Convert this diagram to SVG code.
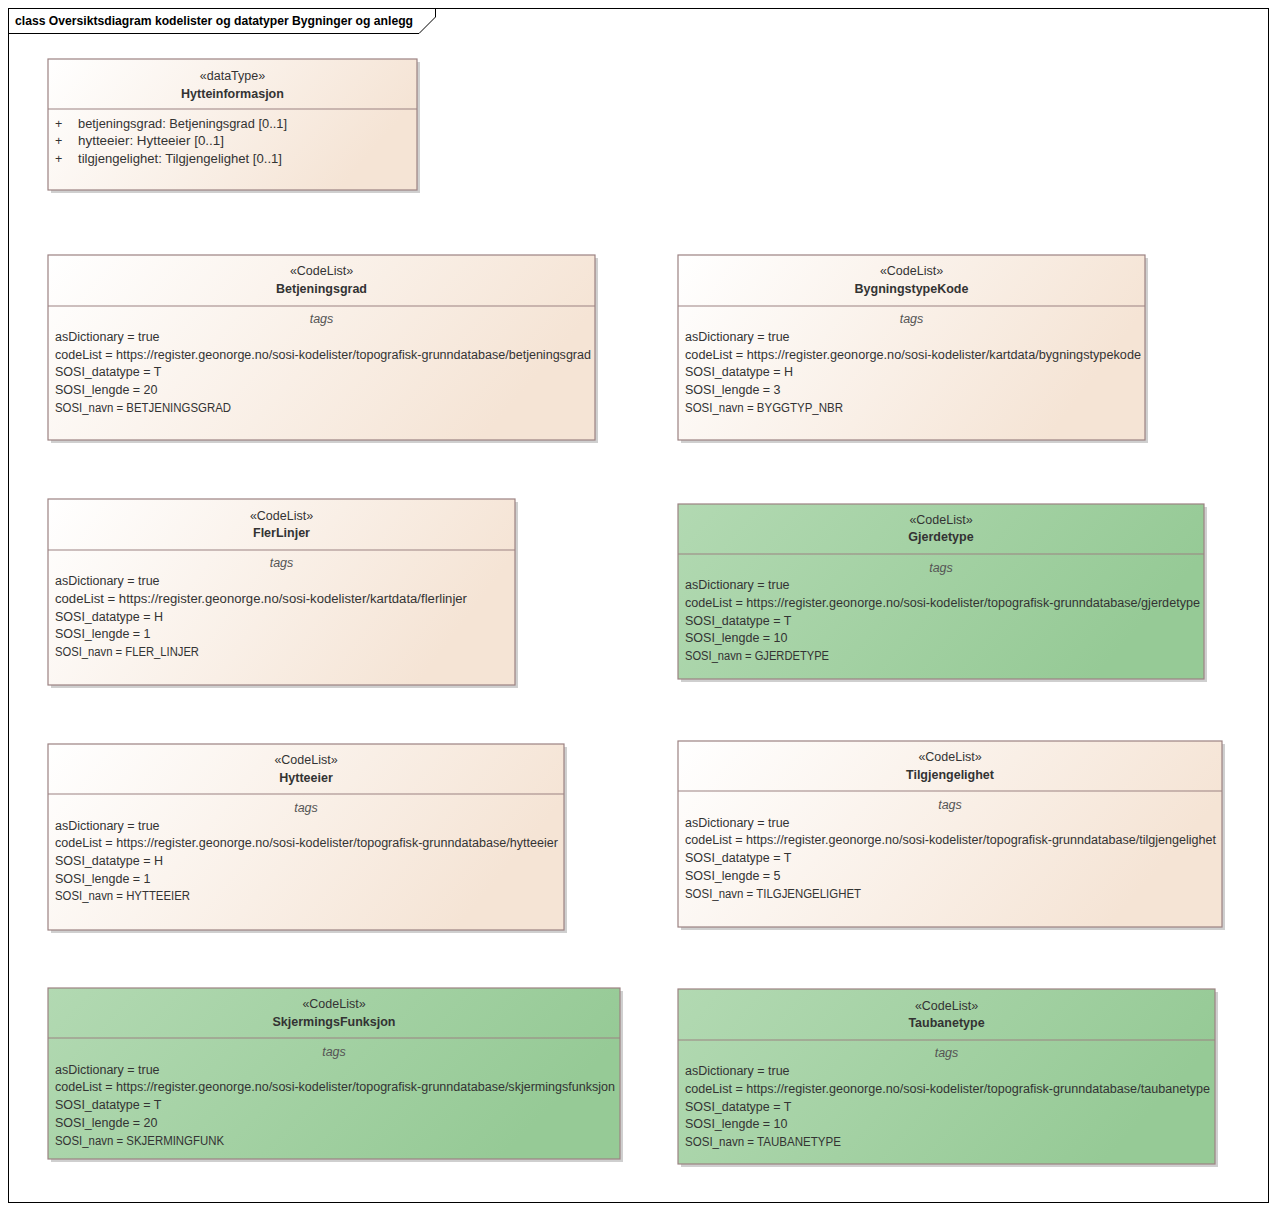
<svg xmlns="http://www.w3.org/2000/svg" width="1276" height="1210" viewBox="0 0 1276 1210">
<defs>
<linearGradient id="cream" x1="0" y1="0" x2="1" y2="0.3">
<stop offset="0" stop-color="#FFFFFF"/>
<stop offset="1" stop-color="#F5E4D5"/>
</linearGradient>
<linearGradient id="green" x1="0" y1="0" x2="1" y2="0.3">
<stop offset="0" stop-color="#B2D9B2"/>
<stop offset="1" stop-color="#96CA96"/>
</linearGradient>
<style>
text{font-family:"Liberation Sans",Arial,sans-serif;font-size:12.5px;fill:#333}
.c{text-anchor:middle}
.b{font-weight:bold}
.i{font-style:italic;fill:#555}
.t{font-weight:bold;fill:#000;font-size:12px}
.box{stroke:#9C8282;stroke-width:1.2}
.cr{fill:url(#cream)}
.gr{fill:url(#green)}
.sh{fill:#CFCFCF}
.sep{stroke:#9C8282;stroke-width:1.2}
</style>
</defs>
<rect x="0" y="0" width="1276" height="1210" fill="#FFFFFF"/>
<g id="frame">
<rect x="8.5" y="8.5" width="1260" height="1194" fill="none" stroke="#000" stroke-width="1"/>
<path d="M8.5 33.5 H419 L435.5 17 V8.5" fill="none" stroke="#000" stroke-width="1"/>
<text x="15" y="25" class="t" textLength="398" lengthAdjust="spacingAndGlyphs">class Oversiktsdiagram kodelister og datatyper Bygninger og anlegg</text>
</g>
<g id="connectors"></g>

<g id="Hytteinformasjon" transform="translate(48,59)">
<rect x="3" y="3" width="369" height="131" class="sh"/>
<rect x="0" y="0" width="369" height="131" class="box cr"/>
<line x1="0" y1="50" x2="369" y2="50" class="sep"/>
<text x="184.5" y="21" class="c">«dataType»</text>
<text x="184.5" y="39" class="c b">Hytteinformasjon</text>
<text x="7" y="69">+</text><text x="30" y="69" textLength="209" lengthAdjust="spacingAndGlyphs">betjeningsgrad: Betjeningsgrad [0..1]</text>
<text x="7" y="86">+</text><text x="30" y="86" textLength="146" lengthAdjust="spacingAndGlyphs">hytteeier: Hytteeier [0..1]</text>
<text x="7" y="104">+</text><text x="30" y="104" textLength="204" lengthAdjust="spacingAndGlyphs">tilgjengelighet: Tilgjengelighet [0..1]</text>
</g>

<g id="Betjeningsgrad" transform="translate(48,255)">
<rect x="3" y="3" width="547" height="185" class="sh"/>
<rect x="0" y="0" width="547" height="185" class="box cr"/>
<line x1="0" y1="51" x2="547" y2="51" class="sep"/>
<text x="273.5" y="20" class="c">«CodeList»</text>
<text x="273.5" y="38" class="c b">Betjeningsgrad</text>
<text x="273.5" y="68" class="c i">tags</text>
<text x="7" y="86">asDictionary = true</text>
<text x="7" y="104" textLength="536" lengthAdjust="spacingAndGlyphs">codeList = https://register.geonorge.no/sosi-kodelister/topografisk-grunndatabase/betjeningsgrad</text>
<text x="7" y="121">SOSI_datatype = T</text>
<text x="7" y="139">SOSI_lengde = 20</text>
<text x="7" y="157" textLength="176" lengthAdjust="spacingAndGlyphs">SOSI_navn = BETJENINGSGRAD</text>
</g>

<g id="BygningstypeKode" transform="translate(678,255)">
<rect x="3" y="3" width="467" height="185" class="sh"/>
<rect x="0" y="0" width="467" height="185" class="box cr"/>
<line x1="0" y1="51" x2="467" y2="51" class="sep"/>
<text x="233.5" y="20" class="c">«CodeList»</text>
<text x="233.5" y="38" class="c b">BygningstypeKode</text>
<text x="233.5" y="68" class="c i">tags</text>
<text x="7" y="86">asDictionary = true</text>
<text x="7" y="104" textLength="456" lengthAdjust="spacingAndGlyphs">codeList = https://register.geonorge.no/sosi-kodelister/kartdata/bygningstypekode</text>
<text x="7" y="121">SOSI_datatype = H</text>
<text x="7" y="139">SOSI_lengde = 3</text>
<text x="7" y="157" textLength="158" lengthAdjust="spacingAndGlyphs">SOSI_navn = BYGGTYP_NBR</text>
</g>

<g id="FlerLinjer" transform="translate(48,499)">
<rect x="3" y="3" width="467" height="186" class="sh"/>
<rect x="0" y="0" width="467" height="186" class="box cr"/>
<line x1="0" y1="51" x2="467" y2="51" class="sep"/>
<text x="233.5" y="21" class="c">«CodeList»</text>
<text x="233.5" y="38" class="c b">FlerLinjer</text>
<text x="233.5" y="68" class="c i">tags</text>
<text x="7" y="86">asDictionary = true</text>
<text x="7" y="104" textLength="412" lengthAdjust="spacingAndGlyphs">codeList = https://register.geonorge.no/sosi-kodelister/kartdata/flerlinjer</text>
<text x="7" y="122">SOSI_datatype = H</text>
<text x="7" y="139">SOSI_lengde = 1</text>
<text x="7" y="157" textLength="144" lengthAdjust="spacingAndGlyphs">SOSI_navn = FLER_LINJER</text>
</g>

<g id="Gjerdetype" transform="translate(678,504)">
<rect x="3" y="3" width="526" height="175" class="sh"/>
<rect x="0" y="0" width="526" height="175" class="box gr"/>
<line x1="0" y1="50" x2="526" y2="50" class="sep"/>
<text x="263" y="20" class="c">«CodeList»</text>
<text x="263" y="37" class="c b">Gjerdetype</text>
<text x="263" y="68" class="c i">tags</text>
<text x="7" y="85">asDictionary = true</text>
<text x="7" y="103" textLength="515" lengthAdjust="spacingAndGlyphs">codeList = https://register.geonorge.no/sosi-kodelister/topografisk-grunndatabase/gjerdetype</text>
<text x="7" y="121">SOSI_datatype = T</text>
<text x="7" y="138">SOSI_lengde = 10</text>
<text x="7" y="156" textLength="144" lengthAdjust="spacingAndGlyphs">SOSI_navn = GJERDETYPE</text>
</g>

<g id="Hytteeier" transform="translate(48,744)">
<rect x="3" y="3" width="516" height="186" class="sh"/>
<rect x="0" y="0" width="516" height="186" class="box cr"/>
<line x1="0" y1="50" x2="516" y2="50" class="sep"/>
<text x="258" y="20" class="c">«CodeList»</text>
<text x="258" y="38" class="c b">Hytteeier</text>
<text x="258" y="68" class="c i">tags</text>
<text x="7" y="86">asDictionary = true</text>
<text x="7" y="103" textLength="503" lengthAdjust="spacingAndGlyphs">codeList = https://register.geonorge.no/sosi-kodelister/topografisk-grunndatabase/hytteeier</text>
<text x="7" y="121">SOSI_datatype = H</text>
<text x="7" y="139">SOSI_lengde = 1</text>
<text x="7" y="156" textLength="135" lengthAdjust="spacingAndGlyphs">SOSI_navn = HYTTEEIER</text>
</g>

<g id="Tilgjengelighet" transform="translate(678,741)">
<rect x="3" y="3" width="544" height="186" class="sh"/>
<rect x="0" y="0" width="544" height="186" class="box cr"/>
<line x1="0" y1="50" x2="544" y2="50" class="sep"/>
<text x="272" y="20" class="c">«CodeList»</text>
<text x="272" y="38" class="c b">Tilgjengelighet</text>
<text x="272" y="68" class="c i">tags</text>
<text x="7" y="86">asDictionary = true</text>
<text x="7" y="103" textLength="531" lengthAdjust="spacingAndGlyphs">codeList = https://register.geonorge.no/sosi-kodelister/topografisk-grunndatabase/tilgjengelighet</text>
<text x="7" y="121">SOSI_datatype = T</text>
<text x="7" y="139">SOSI_lengde = 5</text>
<text x="7" y="157" textLength="176" lengthAdjust="spacingAndGlyphs">SOSI_navn = TILGJENGELIGHET</text>
</g>

<g id="SkjermingsFunksjon" transform="translate(48,988)">
<rect x="3" y="3" width="572" height="171" class="sh"/>
<rect x="0" y="0" width="572" height="171" class="box gr"/>
<line x1="0" y1="50" x2="572" y2="50" class="sep"/>
<text x="286" y="20" class="c">«CodeList»</text>
<text x="286" y="38" class="c b">SkjermingsFunksjon</text>
<text x="286" y="68" class="c i">tags</text>
<text x="7" y="86">asDictionary = true</text>
<text x="7" y="103" textLength="560" lengthAdjust="spacingAndGlyphs">codeList = https://register.geonorge.no/sosi-kodelister/topografisk-grunndatabase/skjermingsfunksjon</text>
<text x="7" y="121">SOSI_datatype = T</text>
<text x="7" y="139">SOSI_lengde = 20</text>
<text x="7" y="157" textLength="169" lengthAdjust="spacingAndGlyphs">SOSI_navn = SKJERMINGFUNK</text>
</g>

<g id="Taubanetype" transform="translate(678,989)">
<rect x="3" y="3" width="537" height="175" class="sh"/>
<rect x="0" y="0" width="537" height="175" class="box gr"/>
<line x1="0" y1="51" x2="537" y2="51" class="sep"/>
<text x="268.5" y="21" class="c">«CodeList»</text>
<text x="268.5" y="38" class="c b">Taubanetype</text>
<text x="268.5" y="68" class="c i">tags</text>
<text x="7" y="86">asDictionary = true</text>
<text x="7" y="104" textLength="525" lengthAdjust="spacingAndGlyphs">codeList = https://register.geonorge.no/sosi-kodelister/topografisk-grunndatabase/taubanetype</text>
<text x="7" y="122">SOSI_datatype = T</text>
<text x="7" y="139">SOSI_lengde = 10</text>
<text x="7" y="157" textLength="156" lengthAdjust="spacingAndGlyphs">SOSI_navn = TAUBANETYPE</text>
</g>
</svg>
